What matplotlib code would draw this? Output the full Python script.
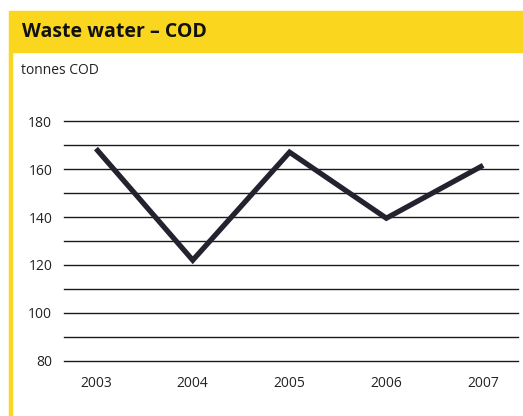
import matplotlib.pyplot as plt
from matplotlib.patches import Rectangle

years = [2003, 2004, 2005, 2006, 2007]
cod_tonnes = [168.5, 122, 167, 139.5, 161.5]
y_ticks = [80, 100, 120, 140, 160, 180]
grid_levels = list(range(80, 181, 10))

yellow = '#fad61e'
W, H = 523, 416

plt.rcParams['font.family'] = ['Open Sans', 'DejaVu Sans']

fig = plt.figure(figsize=(W / 100, H / 100), dpi=100)

# yellow header band and left rule
fig.patches.append(Rectangle((9 / W, 1 - 52 / H), 1 - 9 / W, 41 / H,
                             transform=fig.transFigure, color=yellow, zorder=0))
fig.patches.append(Rectangle((9 / W, 0), 3 / W, 1 - 52 / H,
                             transform=fig.transFigure, color=yellow, zorder=0))
fig.text(22 / W, 1 - 32 / H, 'Waste water \u2013 COD', fontsize=14, fontweight='bold',
         va='center', ha='left', color='#111111')
fig.text(21 / W, 1 - 70 / H, 'tonnes COD', fontsize=10, va='center', ha='left',
         color='#222222')

ax = fig.add_axes([64 / W, 55 / H, 454 / W, 240 / H])
for lvl in grid_levels:
    ax.axhline(lvl, color='#1a1a1a', linewidth=1.0, zorder=1, clip_on=False)

ax.plot(years, cod_tonnes, color='#23222f', linewidth=3.8, solid_joinstyle='miter',
        solid_capstyle='butt', zorder=3)

ax.set_ylim(80, 180)
ax.set_xlim(2002.67, 2007.36)
ax.set_yticks(y_ticks)
ax.set_xticks(years)
ax.set_xticklabels([str(y) for y in years])
ax.tick_params(axis='y', length=0, pad=8.5, labelsize=10, labelcolor='#222222')
ax.tick_params(axis='x', length=0, pad=11, labelsize=10, labelcolor='#222222')
for s in ax.spines.values():
    s.set_visible(False)
ax.patch.set_visible(False)

fig.savefig('out.png', dpi=100)
